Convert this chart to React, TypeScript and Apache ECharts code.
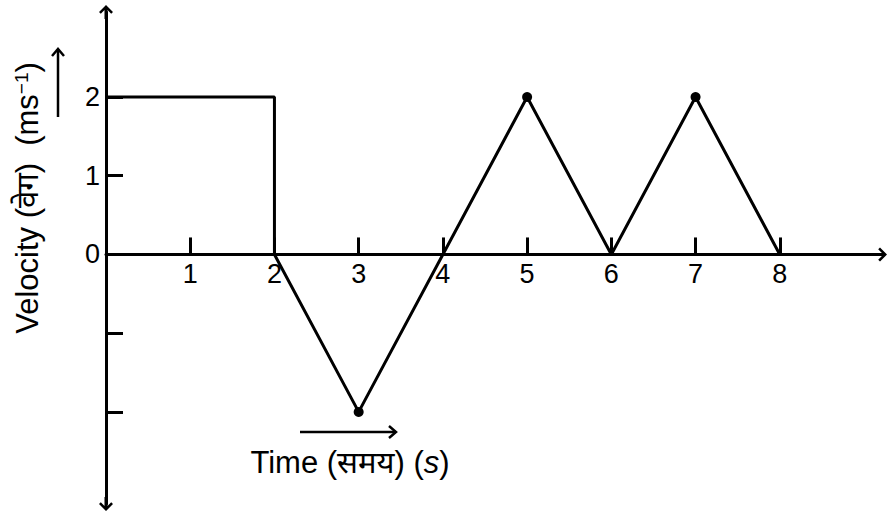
import React, { useEffect, useRef } from "react";
import * as echarts from "echarts";

// Data: velocity–time graph
const times = [0, 2, 2, 3, 4, 5, 6, 7, 8];
const velocities = [2, 2, 0, -2, 0, 2, 0, 2, 0];
const dotTimes = [3, 5, 7];
const dotVelocities = [-2, 2, 2];
const xTickValues = [1, 2, 3, 4, 5, 6, 7, 8];
const yLabelValues = [0, 1, 2];
const yTickValues = [-2, -1, 1, 2];

const FONT = "'Liberation Sans', Arial, 'Noto Sans', sans-serif";
const ARROW =
  "path://M7,0 L14,7 L12.2,8.8 L8.5,5.1 L8.5,14 L5.5,14 L5.5,5.1 L1.8,8.8 L0,7 Z";

const X_MIN = 0;
const X_MAX = 9.19;
const Y_MIN = -3.17;
const Y_MAX = 3.08;
const GRID_TOP = 12;
const GRID_BOTTOM = 9;
const HEIGHT = 513;

export default function App() {
  const ref = useRef<HTMLDivElement>(null);

  useEffect(() => {
    if (!ref.current) return;
    const chart = echarts.init(ref.current, null, { renderer: "svg" });

    const lineData = times.map((t, i) => [t, velocities[i]]);
    const dotData = dotTimes.map((t, i) => [t, dotVelocities[i]]);

    // place the x axis (line, ticks, labels) on y = 0
    const gridH = HEIGHT - GRID_TOP - GRID_BOTTOM;
    const zeroFromBottom = (-Y_MIN / (Y_MAX - Y_MIN)) * gridH;

    chart.setOption({
      animation: false,
      backgroundColor: "#ffffff",
      grid: {
        left: 106,
        right: 8,
        top: GRID_TOP,
        bottom: GRID_BOTTOM,
        containLabel: false,
      },
      xAxis: {
        type: "value",
        min: X_MIN,
        max: X_MAX,
        position: "bottom",
        offset: -zeroFromBottom,
        splitLine: { show: false },
        axisLine: {
          onZero: false,
          lineStyle: { color: "#000", width: 3 },
          symbol: ["none", ARROW],
          symbolSize: [14, 14],
        },
        axisTick: {
          show: true,
          inside: true,
          length: 17,
          lineStyle: { color: "#000", width: 3 },
          customValues: xTickValues,
        },
        axisLabel: {
          show: true,
          color: "#000",
          fontSize: 27,
          fontFamily: FONT,
          margin: 6,
          customValues: xTickValues,
        },
      },
      yAxis: {
        type: "value",
        min: Y_MIN,
        max: Y_MAX,
        splitLine: { show: false },
        axisLine: {
          onZero: false,
          lineStyle: { color: "#000", width: 3 },
          symbol: [ARROW, ARROW],
          symbolSize: [14, 14],
        },
        axisTick: {
          show: true,
          inside: true,
          length: 17,
          lineStyle: { color: "#000", width: 3 },
          customValues: yTickValues,
        },
        axisLabel: {
          show: true,
          color: "#000",
          fontSize: 27,
          fontFamily: FONT,
          margin: 6,
          customValues: yLabelValues,
        },
      },
      series: [
        {
          type: "line",
          data: lineData,
          showSymbol: false,
          lineStyle: { color: "#000", width: 3 },
          z: 3,
        },
        {
          type: "scatter",
          data: dotData,
          symbol: "circle",
          symbolSize: 10,
          itemStyle: { color: "#000", opacity: 1 },
          z: 4,
        },
      ],
      graphic: [
        {
          type: "text",
          x: 27,
          y: 198,
          rotation: Math.PI / 2,
          style: {
            text: "Velocity (वेग)  (ms{sup|−1})",
            font: `31px ${FONT}`,
            fill: "#000",
            align: "center",
            verticalAlign: "middle",
            rich: {
              sup: {
                fontSize: 19,
                fontFamily: FONT,
                fill: "#000",
                verticalAlign: "top",
              },
            },
          },
        },
        {
          type: "line",
          shape: { x1: 58, y1: 117, x2: 58, y2: 49 },
          style: { stroke: "#000", lineWidth: 2.5 },
        },
        {
          type: "polyline",
          shape: { points: [[52, 56], [58, 49], [64, 56]] },
          style: { stroke: "#000", lineWidth: 2.5, fill: "none" },
        },
        {
          type: "line",
          shape: { x1: 300, y1: 432, x2: 396, y2: 432 },
          style: { stroke: "#000", lineWidth: 2.5 },
        },
        {
          type: "polyline",
          shape: { points: [[389, 426], [396, 432], [389, 438]] },
          style: { stroke: "#000", lineWidth: 2.5, fill: "none" },
        },
        {
          type: "text",
          x: 350,
          y: 462,
          style: {
            text: "Time (समय) ({it|s})",
            font: `31px ${FONT}`,
            fill: "#000",
            align: "center",
            verticalAlign: "middle",
            rich: {
              it: {
                fontSize: 31,
                fontFamily: FONT,
                fontStyle: "italic",
                fill: "#000",
              },
            },
          },
        },
      ],
    });

    return () => chart.dispose();
  }, []);

  return (
    <div
      ref={ref}
      style={{ position: "fixed", left: 0, top: 0, width: 888, height: 513 }}
    />
  );
}
